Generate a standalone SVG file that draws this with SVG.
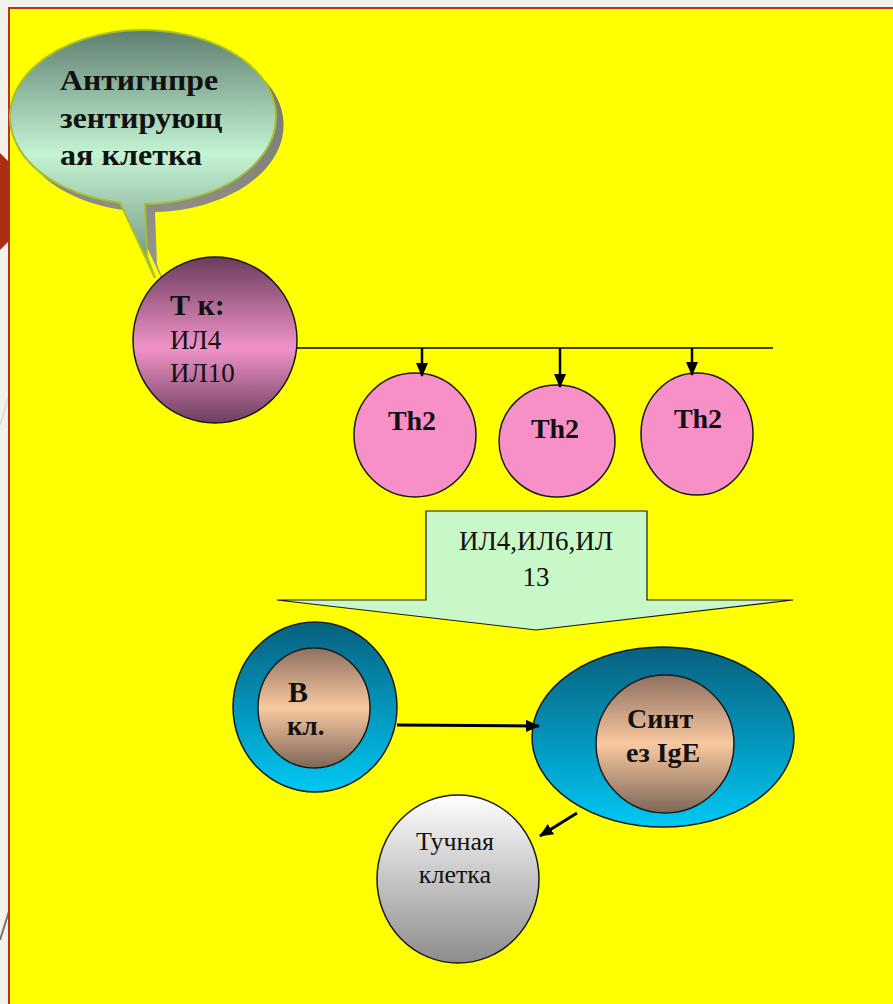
<svg xmlns="http://www.w3.org/2000/svg" width="893" height="1004" viewBox="0 0 893 1004">
<defs>
<linearGradient id="gBubble" x1="0" y1="0" x2="0" y2="1">
<stop offset="0" stop-color="#5f7f70"/><stop offset="0.5" stop-color="#c4f4d4"/><stop offset="1" stop-color="#6c8a78"/>
</linearGradient>
<linearGradient id="gShadow" x1="0" y1="0" x2="0" y2="1">
<stop offset="0" stop-color="#6f6f6a"/><stop offset="1" stop-color="#9a9a92"/>
</linearGradient>
<linearGradient id="gT" x1="0" y1="0" x2="0" y2="1">
<stop offset="0" stop-color="#6a3c5c"/><stop offset="0.55" stop-color="#f092c8"/><stop offset="1" stop-color="#6c3e5e"/>
</linearGradient>
<linearGradient id="gTeal" x1="0" y1="0" x2="0" y2="1">
<stop offset="0" stop-color="#08607e"/><stop offset="1" stop-color="#00c8f4"/>
</linearGradient>
<linearGradient id="gTan" x1="0" y1="0" x2="0" y2="1">
<stop offset="0" stop-color="#8e7060"/><stop offset="0.5" stop-color="#f8c8a0"/><stop offset="1" stop-color="#7e6658"/>
</linearGradient>
<linearGradient id="gGray" x1="0" y1="0" x2="0" y2="1">
<stop offset="0" stop-color="#ffffff"/><stop offset="1" stop-color="#8c8c8c"/>
</linearGradient>
<marker id="ah" markerUnits="userSpaceOnUse" markerWidth="14" markerHeight="12" refX="13" refY="6" orient="auto">
<path d="M0,0 L14,6 L0,12 Z" fill="#000"/>
</marker>
<style>
.serif{font-family:"Liberation Serif","Times New Roman",serif;fill:#111}
.b{font-weight:bold}
.cell{stroke:#1a1a1a;stroke-width:1.5}
.conn{stroke:#000;fill:none}
</style>
</defs>

<!-- page background -->
<rect x="0" y="0" width="893" height="1004" fill="#f2f2ea"/>
<line x1="0" y1="940" x2="10" y2="908" stroke="#77736a" stroke-width="2"/>
<line x1="0" y1="425" x2="10" y2="392" stroke="#d8d8cc" stroke-width="1.5"/>
<rect x="9" y="8" width="884" height="996" fill="#ffff00"/>
<path d="M9,1004 V8 H893" fill="none" stroke="#b8341c" stroke-width="2"/>
<polygon points="0,153 10,163 10,240 0,250" fill="#a82e14"/>

<!-- speech bubble: antigen presenting cell -->
<g id="apc">
<path d="M130,211 L165,286 L157,264 L155,212 A133,87 0 1 0 130,211 Z" fill="url(#gShadow)"/>
<path d="M120,202.7 L155,278 L147,256 L145,204 A133,87 0 1 0 120,202.7 Z" fill="url(#gBubble)" stroke="#a4c030" stroke-width="2"/>
<text class="serif b" font-size="29" x="60" y="90" textLength="158" lengthAdjust="spacingAndGlyphs">Антигнпре</text>
<text class="serif b" font-size="29" x="60" y="128" textLength="162" lengthAdjust="spacingAndGlyphs">зентирующ</text>
<text class="serif b" font-size="29" x="60" y="165" textLength="142" lengthAdjust="spacingAndGlyphs">ая клетка</text>
</g>

<!-- T cell -->
<g id="t-cell">
<ellipse class="cell" cx="215" cy="340" rx="82" ry="83" fill="url(#gT)"/>
<text class="serif b" font-size="30" x="170" y="315">Т к:</text>
<text class="serif" font-size="27" x="170" y="349">ИЛ4</text>
<text class="serif" font-size="27" x="170" y="382">ИЛ10</text>
</g>

<!-- Th2 cells -->
<g id="th2-1">
<ellipse class="cell" cx="415" cy="435" rx="61" ry="62" fill="#f890c8"/>
<text class="serif b" font-size="28" x="412" y="430" text-anchor="middle">Th2</text>
</g>
<g id="th2-2">
<ellipse class="cell" cx="557" cy="441" rx="58" ry="56" fill="#f890c8"/>
<text class="serif b" font-size="28" x="555" y="438" text-anchor="middle">Th2</text>
</g>
<g id="th2-3">
<ellipse class="cell" cx="697" cy="434" rx="56" ry="61" fill="#f890c8"/>
<text class="serif b" font-size="28" x="698" y="428" text-anchor="middle">Th2</text>
</g>

<!-- cytokine block arrow -->
<g id="cytokines">
<path d="M426,511 H647 V600 L793,600 L536,630 L277,600 L426,600 Z" fill="#c8f8c8" stroke="#1a1a1a" stroke-width="1.2"/>
<text class="serif" font-size="27" x="536" y="550" text-anchor="middle">ИЛ4,ИЛ6,ИЛ</text>
<text class="serif" font-size="27" x="536" y="586" text-anchor="middle">13</text>
</g>

<!-- B cell -->
<g id="b-cell">
<ellipse class="cell" cx="315" cy="707" rx="82" ry="85" fill="url(#gTeal)"/>
<ellipse class="cell" cx="314" cy="708" rx="56" ry="60" fill="url(#gTan)"/>
<text class="serif b" font-size="30" x="288" y="702">В</text>
<text class="serif b" font-size="27" x="287" y="735">кл.</text>
</g>

<!-- plasma cell: IgE synthesis -->
<g id="ige-synthesis">
<ellipse class="cell" cx="663" cy="737" rx="131" ry="90" fill="url(#gTeal)"/>
<ellipse class="cell" cx="665" cy="744" rx="69" ry="69" fill="url(#gTan)"/>
<text class="serif b" font-size="28" x="627" y="728">Синт</text>
<text class="serif b" font-size="28" x="626" y="762">ез IgE</text>
</g>

<!-- mast cell -->
<g id="mast-cell">
<ellipse class="cell" cx="458" cy="879" rx="81" ry="84" fill="url(#gGray)"/>
<text class="serif" font-size="26" x="455" y="850" text-anchor="middle">Тучная</text>
<text class="serif" font-size="26" x="455" y="883" text-anchor="middle">клетка</text>
</g>

<!-- connectors -->
<g id="connectors">
<line class="conn" x1="297" y1="348" x2="773" y2="348" stroke-width="1.5"/>
<line class="conn" x1="422" y1="348" x2="422" y2="376" stroke-width="2.5" marker-end="url(#ah)"/>
<line class="conn" x1="560" y1="348" x2="560" y2="387" stroke-width="2.5" marker-end="url(#ah)"/>
<line class="conn" x1="692" y1="348" x2="692" y2="375" stroke-width="2.5" marker-end="url(#ah)"/>
<line class="conn" x1="397" y1="725" x2="539" y2="726" stroke-width="3" marker-end="url(#ah)"/>
<line class="conn" x1="577" y1="813" x2="540" y2="836" stroke-width="3" marker-end="url(#ah)"/>
</g>
</svg>
